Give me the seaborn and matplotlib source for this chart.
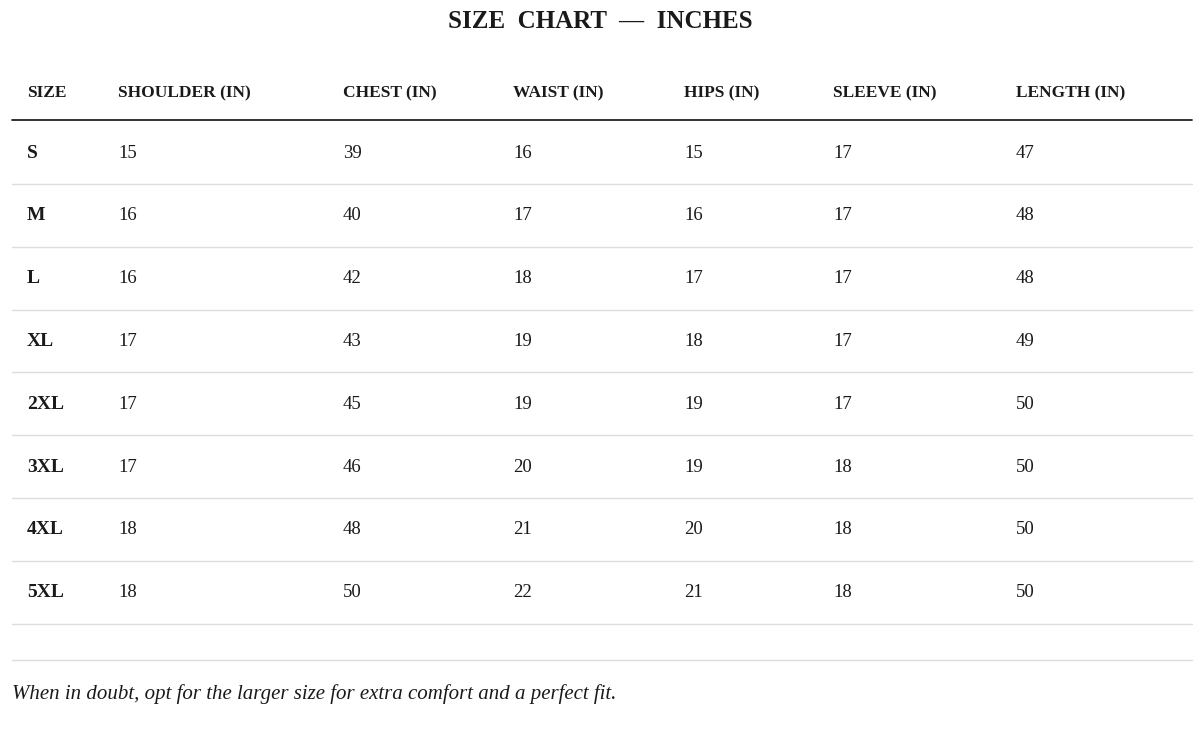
import matplotlib
matplotlib.use("Agg")
import matplotlib.pyplot as plt
import seaborn as sns

sns.set_theme(style="white")
plt.rcParams['font.family'] = ['Liberation Serif', 'DejaVu Serif']

title = "SIZE CHART — INCHES"
headers = ["SIZE", "SHOULDER (IN)", "CHEST (IN)", "WAIST (IN)", "HIPS (IN)", "SLEEVE (IN)", "LENGTH (IN)"]
sizes = ["S", "M", "L", "XL", "2XL", "3XL", "4XL", "5XL"]
shoulder = [15, 16, 16, 17, 17, 17, 18, 18]
chest = [39, 40, 42, 43, 45, 46, 48, 50]
waist = [16, 17, 18, 19, 19, 20, 21, 22]
hips = [15, 16, 17, 18, 19, 19, 20, 21]
sleeve = [17, 17, 17, 17, 17, 18, 18, 18]
length = [47, 48, 48, 49, 50, 50, 50, 50]
footer = "When in doubt, opt for the larger size for extra comfort and a perfect fit."

col_x = [27, 118, 343, 513, 684, 833, 1016]
txt = "#1a1a1a"

fig = plt.figure(figsize=(12, 7.31), dpi=100)
ax = fig.add_axes([0, 0, 1, 1])
ax.set_xlim(0, 1200)
ax.set_ylim(731, 0)
ax.axis("off")

ax.text(600, 22, "  ".join(title.split(" ")), ha="center", va="center", fontsize=18,
        fontweight="bold", color=txt)
for x, h in zip(col_x, headers):
    ax.text(x, 93, h, ha="left", va="center", fontsize=12.5, fontweight="bold", color=txt)
ax.plot([12, 1192], [120, 120], color="#222222", lw=1.3)

cols = [shoulder, chest, waist, hips, sleeve, length]
for i, s in enumerate(sizes):
    y = 153 + i * 62.8
    ax.text(col_x[0], y, s, ha="left", va="center", fontsize=14, fontweight="bold", color=txt)
    for x, c in zip(col_x[1:], cols):
        ax.text(x, y, str(c[i]), ha="left", va="center", fontsize=13.5, color=txt)
    ax.plot([12, 1192], [y + 31, y + 31], color="#dddddd", lw=1)
ax.plot([12, 1192], [660, 660], color="#dddddd", lw=1)
ax.text(12, 694, footer, ha="left", va="center", fontsize=15, style="italic", color=txt)

fig.savefig("out.png", dpi=100)
